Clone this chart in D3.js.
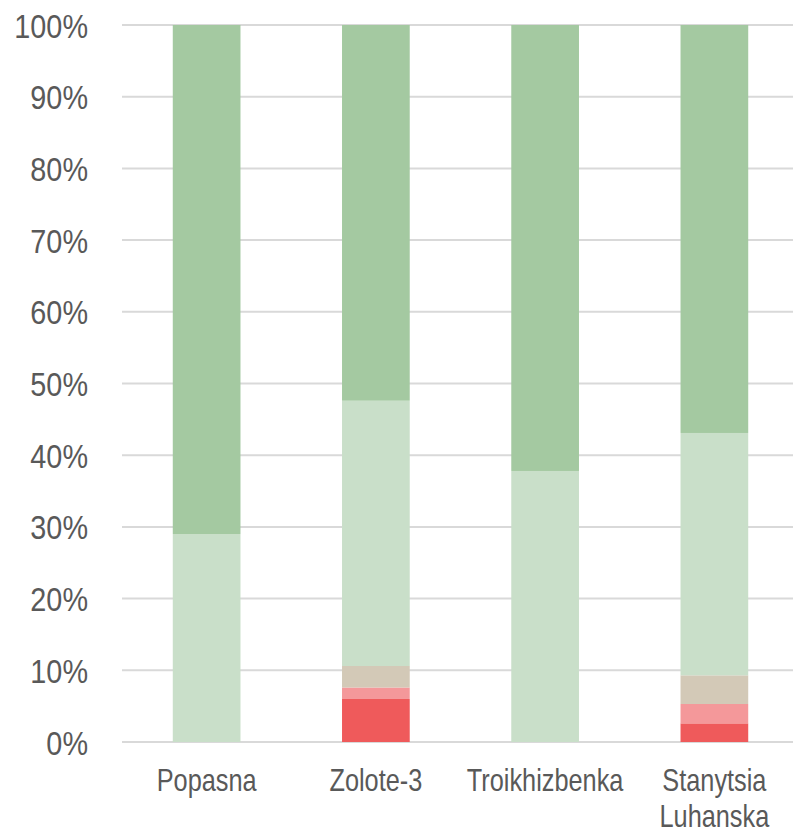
<!DOCTYPE html>
<html><head><meta charset="utf-8">
<script src="https://cdn.jsdelivr.net/npm/d3@7/dist/d3.min.js"></script>
<style>body{margin:0;background:#fff}svg{display:block}</style>
</head><body><div id="chart"></div>
<script>
const categories = ["Popasna", "Zolote-3", "Troikhizbenka", "Stanytsia Luhanska"];
const seriesNames = ["s1", "s2", "s3", "s4", "s5"];
const s1 = [0, 6.0, 0, 2.6];
const s2 = [0, 1.6, 0, 2.7];
const s3 = [0, 3.0, 0, 4.0];
const s4 = [29.0, 37.0, 37.8, 33.8];
const s5 = [71.0, 52.4, 62.2, 56.9];
const colors = ["#EF5A5B", "#F4989A", "#D3C9B7", "#C9DFC9", "#A4C9A1"];
const yTicks = [0, 10, 20, 30, 40, 50, 60, 70, 80, 90, 100];

const W = 793, H = 832;
const m = {left: 122, right: -6, top: 25, bottom: 90};
const svg = d3.select("#chart").append("svg").attr("width", W).attr("height", H);
const x = d3.scaleBand().domain(categories).range([m.left, W - m.right]).paddingInner(0.6).paddingOuter(0.3);
const y = d3.scaleLinear().domain([0, 100]).range([H - m.bottom, m.top]);

const font = "'Liberation Sans', Arial, sans-serif";

svg.append("g").selectAll("line").data(yTicks).join("line")
  .attr("x1", m.left).attr("x2", W).attr("y1", d => y(d)).attr("y2", d => y(d))
  .attr("stroke", "#D9D9D9").attr("stroke-width", 2);

const yAxis = d3.axisLeft(y).tickValues(yTicks).tickFormat(d => d + "%").tickSize(0).tickPadding(0);
const ga = svg.append("g").attr("transform", "translate(88,0)").call(yAxis);
ga.select(".domain").remove();
ga.selectAll("text").attr("font-family", font).attr("font-size", 33.5).attr("fill", "#595959")
  .attr("x", 0).attr("dy", "0.36em").attr("transform", "scale(0.86,1)");

const rows = categories.map((c, i) => ({cat: c, s1: s1[i], s2: s2[i], s3: s3[i], s4: s4[i], s5: s5[i]}));
const stack = d3.stack().keys(seriesNames)(rows);
svg.append("g").selectAll("g").data(stack).join("g").attr("fill", (d, i) => colors[i])
  .selectAll("rect").data(d => d).join("rect")
  .attr("x", d => x(d.data.cat)).attr("width", x.bandwidth())
  .attr("y", d => y(d[1])).attr("height", d => y(d[0]) - y(d[1]));

const xl = svg.append("g").selectAll("text").data(categories).join("text")
  .attr("text-anchor", "middle").attr("font-family", font).attr("font-size", 30.5).attr("fill", "#595959")
  .attr("transform", d => `translate(${x(d) + x.bandwidth() / 2},791) scale(0.83,1)`);
xl.each(function(d) {
  const words = d.split(" ");
  d3.select(this).selectAll("tspan").data(words).join("tspan")
    .attr("x", 0).attr("dy", (w, i) => i === 0 ? 0 : 36.5).text(w => w);
});
</script></body></html>
